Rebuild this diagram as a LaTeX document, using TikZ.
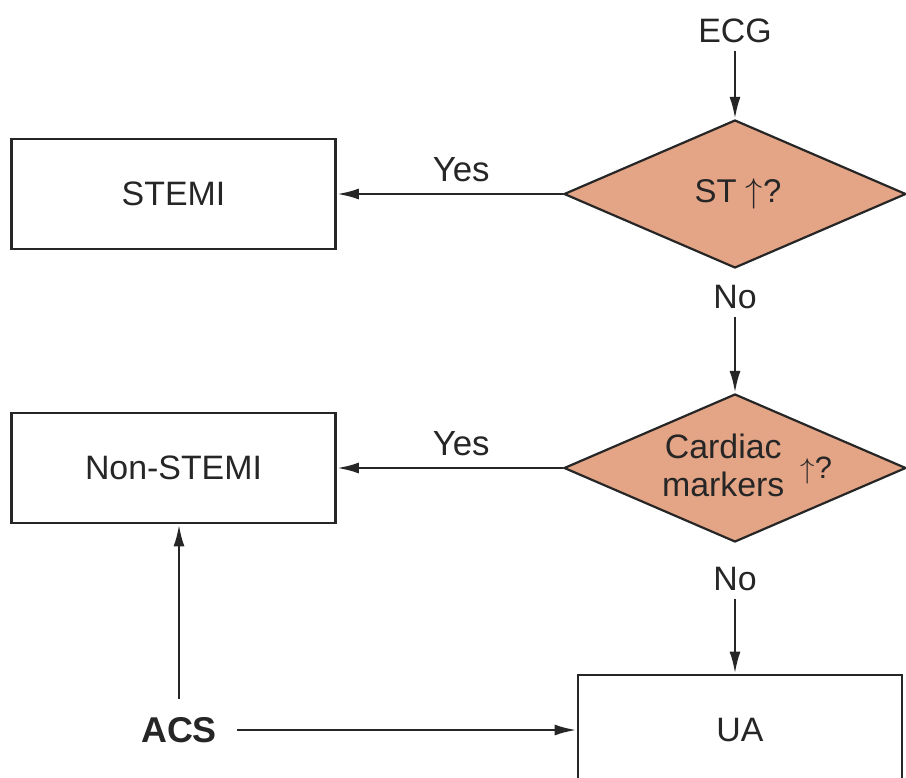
\documentclass[tikz,border=0pt]{standalone}
\usepackage{fontspec}
\setmainfont{Liberation Sans}
\usetikzlibrary{shapes.geometric,arrows.meta,positioning}
\definecolor{salmon}{RGB}{228,164,134}
\definecolor{ink}{RGB}{38,38,38}

\begin{document}
\begin{tikzpicture}[x=0.5bp, y=-0.5bp, node distance = 10bp, auto,
		color=ink, line width=1.3bp,
		font=\fontsize{17}{20}\selectfont,
		>={Latex[length=11bp,width=5.5bp]},
		box/.style={draw, rectangle, line width=1.4bp, minimum width=162bp, minimum height=55bp},
		dec/.style={draw, diamond, fill=salmon, line width=1.1bp, inner sep=0pt, minimum width=171bp, minimum height=74bp}]
		\useasboundingbox (0,0) rectangle (906,778);
		
		\node (ecg) at (735,31) {ECG};
		\node [dec, label={[font=\fontsize{16.5}{19}\selectfont, xshift=1.5bp]center:ST $\uparrow$?}] (st) at (735,194) {};
		\node [box, left=113bp of st] (stemi) {STEMI};
		\node [below=4bp of st] (no1) {No};
		\node [dec, label={[xshift=6bp, yshift=-0.8bp]center:{\fontsize{17}{19}\selectfont\begin{tabular}{@{}c@{}}Cardiac\\markers\end{tabular}}\hspace{8bp}{\fontsize{15.5}{18}\selectfont$\uparrow$?}}] (cm) at (735,468) {};
		\node [box, left=113bp of cm] (nstemi) {Non-STEMI};
		\node [below=8bp of cm] (no2) {No};
		\node [box] (ua) at (740,730) {UA};
		\node [font=\fontsize{18}{21}\selectfont\bfseries] (acs) at (179,730) {ACS};
		
		\draw[->]
		(ecg) -- (st.north);
		\draw[->]
		(st.west) -- node[pos=.45, above=2bp, font=\fontsize{17.5}{20}\selectfont] (yes1) {Yes} (stemi.east);
		\draw[->]
		(no1) -- (cm.north);
		
		\draw[->]
		(cm.west) -- node[pos=.45, above=2bp, font=\fontsize{17.5}{20}\selectfont] (yes2) {Yes} (nstemi.east);
		\draw[->]
		(no2) -- (no2 |- ua.north);
		
		\draw[->, shorten <=6bp]
		(acs) -- (acs -| ua.west);
		\draw[->, shorten <=5bp]
		(acs) -- (acs |- nstemi.south);
		
		\end{tikzpicture}
\end{document}
